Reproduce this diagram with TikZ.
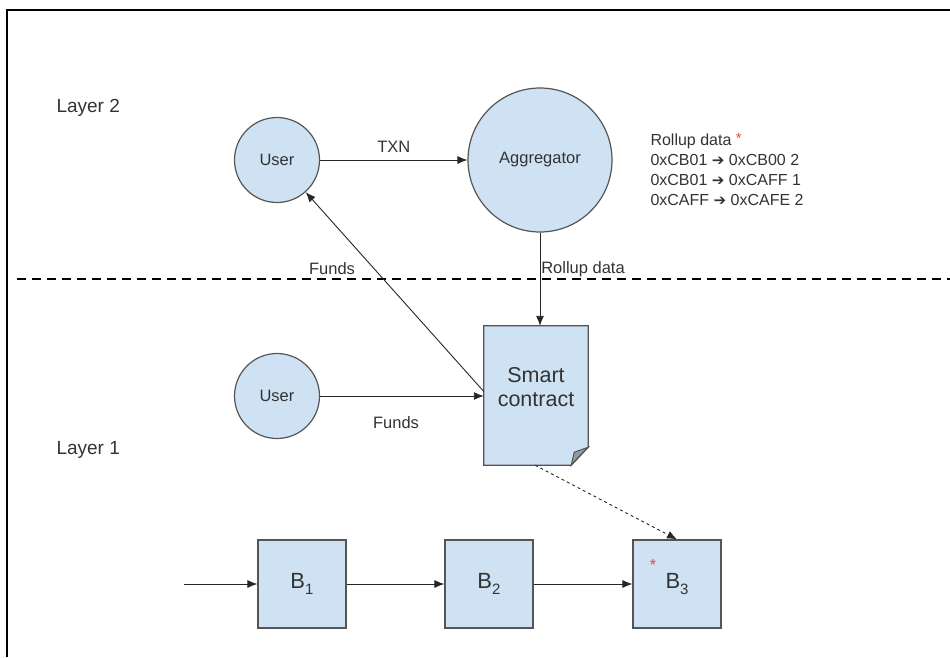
\documentclass[tikz,border=0pt]{standalone}
\usepackage{fontspec}
\setmainfont{Liberation Sans}
\newfontfamily\arrowfont{DejaVu Sans}
\usetikzlibrary{arrows.meta}
\definecolor{boxfill}{HTML}{CFE2F3}
\definecolor{boxline}{HTML}{555555}
\definecolor{txt}{HTML}{333333}
\definecolor{starred}{HTML}{E8404E}

\begin{document}
\begin{tikzpicture}[x=1pt,y=-1pt,
  every node/.style={text=txt,font=\fontsize{16.5}{20}\selectfont},
  circ/.style={circle,draw=boxline,fill=boxfill,line width=1.2pt,inner sep=0pt},
  blk/.style={draw=boxline,fill=boxfill,line width=1.2pt,minimum width=88pt,minimum height=88pt,font=\fontsize{22}{24}\selectfont},
  arr/.style={-{Latex[length=10pt,width=8pt]},line width=0.9pt,draw=black!85}]
\useasboundingbox (0,0) rectangle (950,657);
\draw[line width=1.5pt] (7,657) -- (7,10) -- (950,10);
%
\node[font=\fontsize{19}{22}\selectfont,anchor=west] (layer2) at (53,108) {Layer 2};
\node[font=\fontsize{19}{22}\selectfont,anchor=west] (layer1) at (53,450) {Layer 1};
\draw[line width=1.8pt,dash pattern=on 9pt off 6pt] (17,279) -- (950,279);
%
\node[circ,minimum size=85pt] (user2) at (277,160) {User};
\node[circ,minimum size=144pt] (aggr) at (540,160) {Aggregator};
\node[circ,minimum size=85pt] (user1) at (277,396) {User};
%
\node[minimum width=104pt,minimum height=139pt] (contract) at (536,395.5) {};
\fill[boxfill] (contract.north west) -- (contract.north east) -- ([yshift=18pt]contract.south east)
  -- ([xshift=-17pt]contract.south east) -- (contract.south west) -- cycle;
\filldraw[draw=boxline,fill=boxline!50!boxfill,line width=1pt] ([yshift=18pt]contract.south east)
  -- ([xshift=-14pt,yshift=13pt]contract.south east) -- ([xshift=-17pt]contract.south east) -- cycle;
\draw[boxline,line width=1.2pt] (contract.north west) -- (contract.north east) -- ([yshift=18pt]contract.south east)
  -- ([xshift=-17pt]contract.south east) -- (contract.south west) -- cycle;
\node[align=center,font=\fontsize{21.5}{24}\selectfont] (contract-text) at ([yshift=8pt]contract.center) {Smart\\contract};
%
\node[anchor=north west,align=left,font=\fontsize{16}{20}\selectfont] (rollup) at (647,130)
  {Rollup data \raisebox{2pt}{\textcolor{starred}{\fontsize{15}{15}\selectfont *}}\\
   0xCB01 {\arrowfont\fontsize{15}{15}\selectfont ➔} 0xCB00 2\\
   0xCB01 {\arrowfont\fontsize{15}{15}\selectfont ➔} 0xCAFF 1\\
   0xCAFF {\arrowfont\fontsize{15}{15}\selectfont ➔} 0xCAFE 2};
%
\node[blk] (b1) at (302,584) {B\raisebox{-6pt}{\fontsize{15}{15}\selectfont 1}};
\node[blk] (b2) at (489,584) {B\raisebox{-6pt}{\fontsize{15}{15}\selectfont 2}};
\node[blk] (b3) at (677,584) {B\raisebox{-6pt}{\fontsize{15}{15}\selectfont 3}};
\node[text=starred,font=\fontsize{16}{16}\selectfont] (star) at (653,565) {*};
\coordinate (chainin) at (184,584);
%
\draw[arr] (user2) -- node[above=4pt] (txn) {TXN} (aggr);
\draw[arr] (aggr.south) -- (aggr.south |- contract.north);
\node (rolluplbl) at (583,269) {Rollup data};
\draw[arr] ([yshift=4pt]contract.west) -- (user2);
\node (funds2) at (332,269) {Funds};
\draw[arr] (user1) -- (user1 -| contract.west);
\node (funds1) at (396,423) {Funds};
\draw[arr,dashed] ([xshift=-1pt]contract.south) -- (b3.north);
\draw[arr] (chainin) -- (b1);
\draw[arr] (b1) -- (b2);
\draw[arr] (b2) -- (b3);
\end{tikzpicture}
\end{document}
